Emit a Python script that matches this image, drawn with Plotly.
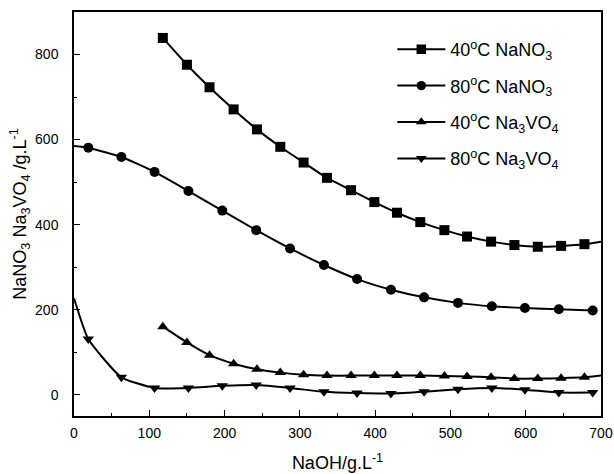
import plotly.graph_objects as go

# 40°C NaNO3
x_n40 = [118, 150, 180, 212, 243, 274, 305, 336, 368, 399, 429, 460, 492, 522, 554, 585, 616, 647, 678, 700]
y_n40 = [839, 776, 723, 671, 624, 583, 546, 510, 481, 453, 428, 406, 387, 372, 360, 352, 348, 350, 354, 360]
m_n40 = [True] * 19 + [False]

# 80°C NaNO3
x_n80 = [0, 19, 63, 107, 152, 197, 242, 287, 332, 376, 421, 465, 510, 555, 599, 644, 689]
y_n80 = [585, 581, 559, 524, 479, 433, 387, 344, 305, 272, 247, 229, 216, 208, 204, 201, 198]
m_n80 = [False] + [True] * 16

# 40°C Na3VO4
x_v40 = [118, 150, 180, 212, 243, 274, 305, 336, 368, 399, 429, 460, 492, 522, 554, 585, 616, 647, 678, 700]
y_v40 = [160, 123, 93, 73, 60, 52, 47, 45, 45, 45, 45, 45, 44, 43, 41, 38, 38, 39, 41, 45]
m_v40 = [True] * 19 + [False]

# 80°C Na3VO4
x_v80 = [0, 19, 63, 107, 152, 197, 242, 287, 332, 376, 421, 465, 510, 555, 599, 644, 689]
y_v80 = [227, 131, 41, 16, 16, 21, 23, 16, 7, 4, 3, 7, 13, 16, 12, 5, 5]
m_v80 = [False] + [True] * 16

names = ["40<sup>o</sup>C NaNO<sub>3</sub>", "80<sup>o</sup>C NaNO<sub>3</sub>",
         "40<sup>o</sup>C Na<sub>3</sub>VO<sub>4</sub>", "80<sup>o</sup>C Na<sub>3</sub>VO<sub>4</sub>"]

x_ticks = [0, 100, 200, 300, 400, 500, 600, 700]
y_ticks = [0, 200, 400, 600, 800]

series = [
    (x_n40, y_n40, m_n40, "square"),
    (x_n80, y_n80, m_n80, "circle"),
    (x_v40, y_v40, m_v40, "triangle-up"),
    (x_v80, y_v80, m_v80, "triangle-down"),
]

FONT = "Liberation Sans, Arial, sans-serif"
fig = go.Figure()
for i, ((xs, ys, ms, sym), nm) in enumerate(zip(series, names)):
    fig.add_trace(go.Scatter(
        x=xs, y=ys, name=nm, mode="lines+markers", legendgroup=str(i),
        line=dict(color="black", width=2, shape="spline", smoothing=0.5),
        marker=dict(symbol=sym, color="black", opacity=1,
                    size=[10 if m else 0 for m in ms],
                    line=dict(width=0)),
    ))

axis_common = dict(
    showline=True, linecolor="black", linewidth=1.5, mirror=True,
    ticks="inside", ticklen=6, tickwidth=1.2, tickcolor="black",
    showgrid=False, zeroline=False, automargin=False,
    tickfont=dict(family=FONT, size=14, color="black"),
)
fig.update_xaxes(range=[0, 700], tickvals=x_ticks, ticklabelstandoff=3,
                 minor=dict(dtick=50, ticks="inside", ticklen=3, tickcolor="black", tickwidth=1),
                 title=dict(text="NaOH/g.L<sup>-1</sup>", font=dict(family=FONT, size=18, color="black"), standoff=17),
                 **axis_common)
fig.update_yaxes(range=[-50, 900], tickvals=y_ticks, ticklabelstandoff=11,
                 minor=dict(dtick=100, ticks="inside", ticklen=3, tickcolor="black", tickwidth=1),
                 title=dict(text="NaNO<sub>3</sub> Na<sub>3</sub>VO<sub>4</sub> /g.L<sup>-1</sup>",
                            font=dict(family=FONT, size=18, color="black"), standoff=4),
                 **axis_common)

fig.update_layout(
    width=614, height=474,
    margin=dict(l=74, r=13, t=12, b=58),
    paper_bgcolor="white", plot_bgcolor="white",
    font=dict(family=FONT, color="black"),
    legend=dict(x=0.604, y=0.953, xanchor="left", yanchor="top",
                font=dict(family=FONT, size=18, color="black"),
                bgcolor="rgba(0,0,0,0)", tracegroupgap=10,
                traceorder="grouped", itemwidth=48),
    showlegend=True,
)

fig.write_html("out.html", config={"displayModeBar": False},
               post_script="document.body.style.margin='0';")
